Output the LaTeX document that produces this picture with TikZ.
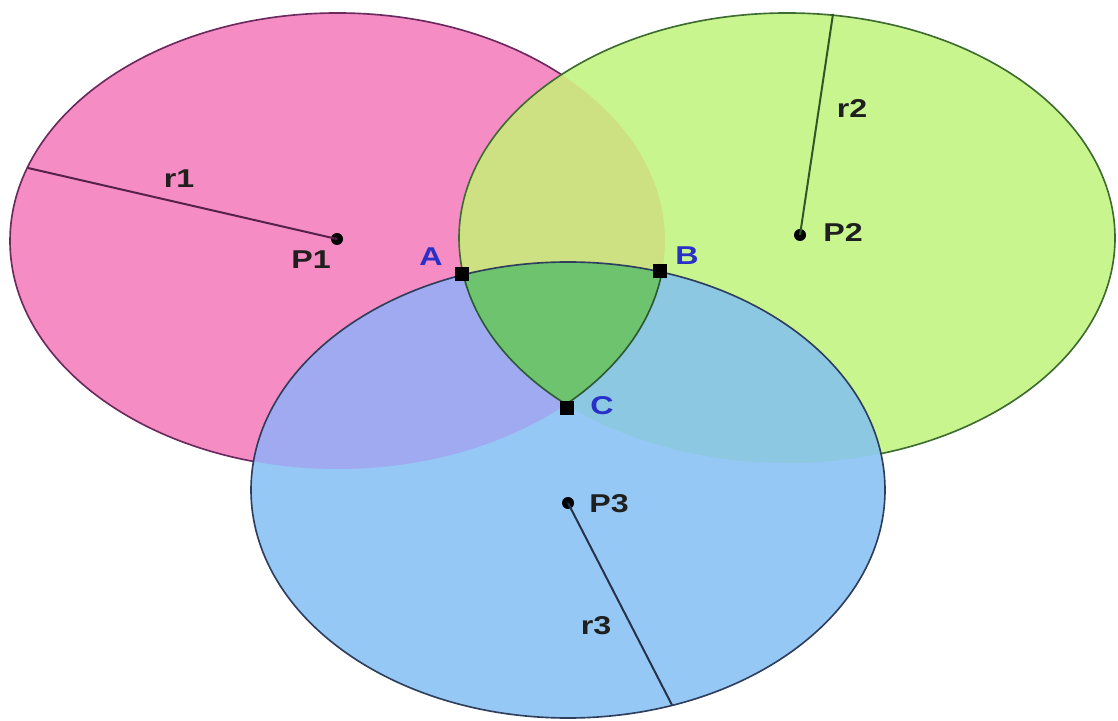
\documentclass[tikz,border=0pt]{standalone}
\usepackage{fontspec}
\setmainfont{Liberation Sans}
\definecolor{pinkcol}{HTML}{F58CC3}
\definecolor{greencol}{HTML}{C8F58E}
\definecolor{bluecol}{HTML}{96C8F5}
\definecolor{pgcol}{HTML}{CDE182}
\definecolor{pbcol}{HTML}{A0AAF0}
\definecolor{gbcol}{HTML}{8CC8E1}
\definecolor{tricol}{HTML}{6EC36E}
\definecolor{pinkline}{HTML}{6B2A5E}
\definecolor{greenline}{HTML}{3E6B30}
\definecolor{blueline}{HTML}{2E3E5C}
\definecolor{triline}{HTML}{2C5A34}
\definecolor{labblue}{HTML}{2830C8}
\begin{document}
\begin{tikzpicture}[x=0.03cm,y=0.03cm,
  pinkE/.style={insert path={(337.5,479) ellipse [x radius=327.5, y radius=228]}},
  greenE/.style={insert path={(787,482) ellipse [x radius=328, y radius=225]}},
  blueE/.style={insert path={(568,230) ellipse [x radius=317, y radius=228]}},
  frameR/.style={insert path={(-10,-10) rectangle (1130,730)}},
  outl/.style={line width=1.4pt},
  dotn/.style={circle, fill=black, inner sep=0pt, minimum size=0.36cm},
  sqn/.style={rectangle, fill=black, inner sep=0pt, minimum size=0.42cm},
  lab/.style={inner sep=0pt, font=\fontsize{22}{26}\selectfont\bfseries, text=black!88},
  labB/.style={lab, text=labblue},
  radius line/.style={line width=1.7pt}
]
\useasboundingbox (0,0) rectangle (1118,720);
% fills
\fill[pinkcol][pinkE];
\fill[greencol][greenE];
\fill[bluecol][blueE];
\begin{scope}
  \clip[pinkE];
  \fill[pgcol][greenE];
  \fill[pbcol][blueE];
\end{scope}
\begin{scope}
  \clip[greenE];
  \fill[gbcol][blueE];
\end{scope}
\begin{scope}
  \clip[pinkE];
  \clip[greenE];
  \fill[tricol][blueE];
\end{scope}
% outlines
\begin{scope}[even odd rule]
  \clip[frameR][greenE];
  \begin{scope}[even odd rule]
    \clip[frameR][blueE];
    \draw[outl, pinkline][pinkE];
  \end{scope}
\end{scope}
\begin{scope}[even odd rule]
  \clip[frameR][blueE];
  \draw[outl, greenline][greenE];
\end{scope}
\begin{scope}
  \clip[greenE];
  \clip[blueE];
  \draw[outl, triline][pinkE];
\end{scope}
\begin{scope}
  \clip[pinkE];
  \clip[blueE];
  \draw[outl, triline][greenE];
\end{scope}
\draw[outl, blueline][blueE];
% centres and radii
\node[dotn] (P1) at (337,481) {};
\node[dotn] (P2) at (800,485) {};
\node[dotn] (P3) at (568,217) {};
\coordinate (R1) at (28,552);
\coordinate (R2) at (833,706);
\coordinate (R3) at (672,15);
\draw[radius line, pinkline!80!black] (P1.center) -- (R1);
\draw[radius line, greenline!80!black] (P2.center) -- (R2);
\draw[radius line, blueline!80!black] (P3.center) -- (R3);
\node[lab] (lP1) at (311,460) {\scalebox{1.25}[1]{P1}};
\node[lab] (lP2) at (843,487) {\scalebox{1.25}[1]{P2}};
\node[lab] (lP3) at (609,216) {\scalebox{1.25}[1]{P3}};
\node[lab] (lr1) at (179,541) {\scalebox{1.25}[1]{r1}};
\node[lab] (lr2) at (852,611) {\scalebox{1.25}[1]{r2}};
\node[lab] (lr3) at (596,94) {\scalebox{1.25}[1]{r3}};
% intersection points
\node[sqn] (A) at (462,446) {};
\node[sqn] (B) at (660,449) {};
\node[sqn] (C) at (567,312) {};
\node[labB] (lA) at (431,463) {\scalebox{1.25}[1]{A}};
\node[labB] (lB) at (687,464) {\scalebox{1.25}[1]{B}};
\node[labB] (lC) at (602,314) {\scalebox{1.25}[1]{C}};
\end{tikzpicture}
\end{document}
